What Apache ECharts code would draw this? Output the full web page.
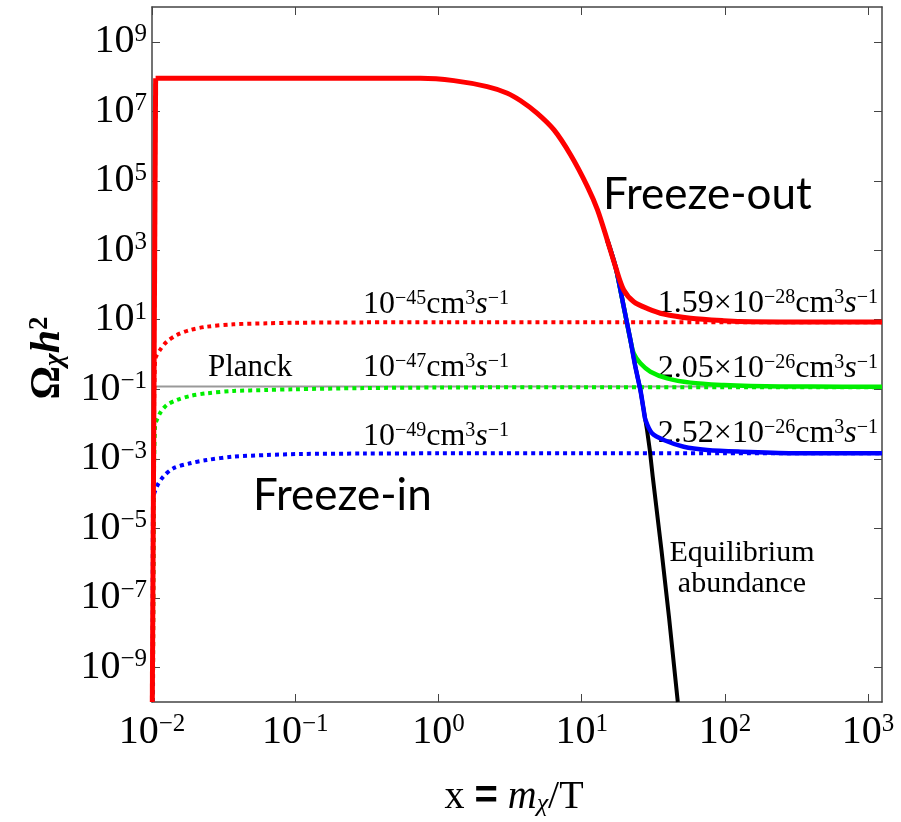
<!DOCTYPE html>
<html>
<head>
<meta charset="utf-8">
<script src="https://cdn.jsdelivr.net/npm/echarts@6/dist/echarts.min.js"></script>
<style>
  html, body { margin: 0; padding: 0; background: #fff; }
  #main { width: 901px; height: 822px; }
</style>
</head>
<body>
<div id="main"></div>
<script>
var myChart = echarts.init(document.getElementById('main'));

// tick positions
var xTicks = [0.01, 0.1, 1, 10, 100, 1000];
var yTicks = [1e-9, 1e-7, 1e-5, 1e-3, 1e-1, 10, 1e3, 1e5, 1e7, 1e9];

// equilibrium abundance (black)
var eqX = [0.01, 0.1, 0.75, 1.28, 2.19, 3.03, 3.75, 4.9, 6.41, 8.38, 10.97, 12.9, 15.1, 17.3, 19.66, 21.9, 23.7, 25.7, 27.1, 28.6, 29.9, 31.35, 36.06, 40.69, 46.9];
var eqY = [8.9e7, 8.9e7, 8.9e7, 7.6e7, 5.1e7, 3.3e7, 2.0e7, 8.7e6, 2.9e6, 5.5e5, 6.8e4, 1.45e4, 1.95e3, 316, 23.7, 2.61, 0.446, 0.0951, 0.0253, 6.7e-3, 1.79e-3, 3.04e-4, 2.37e-6, 2.85e-8, 1e-10];

// freeze-out solutions: vertical start, then leave equilibrium
var redHeadX = [0.01005, 0.0106];
var redHeadY = [1e-10, 8.9e7];
var redSplit = 17.3, greenSplit = 21.9, blueSplit = 27.1;
var redTailX = [19.66, 23.1, 28.6, 37.4, 57.5, 98.2, 151, 400, 1250];
var redTailY = [71.8, 33.0, 21.3, 14.6, 11.0, 9.4, 8.8, 8.65, 8.6];
var greenTailX = [23.1, 25.7, 30.2, 39.5, 57.5, 98.2, 151, 400, 1250];
var greenTailY = [1.08, 0.558, 0.32, 0.206, 0.155, 0.132, 0.124, 0.119, 0.118];
var blueTailX = [27.9, 31.0, 37.4, 51.6, 75.2, 129, 300, 1250];
var blueTailY = [0.013, 5.4e-3, 3.47e-3, 2.22e-3, 1.79e-3, 1.6e-3, 1.45e-3, 1.43e-3];

// freeze-in solutions (dotted)
var rdX = [0.01016, 0.01032, 0.0105, 0.01137, 0.01267, 0.0149, 0.01845, 0.0241, 0.037, 0.0633, 0.097, 0.3, 1, 10, 100, 1250];
var rdY = [1e-10, 1.8e-3, 0.695, 1.35, 2.33, 3.64, 5.07, 6.31, 7.4, 7.9, 8.2, 8.4, 8.45, 8.45, 8.45, 8.45];
var gdX = [0.01016, 0.01024, 0.0105, 0.01137, 0.01267, 0.0149, 0.01845, 0.0241, 0.037, 0.0633, 0.097, 0.3, 1, 10, 100, 1250];
var gdY = [1e-10, 1.2e-6, 8.36e-3, 0.0203, 0.0352, 0.0491, 0.064, 0.0764, 0.0891, 0.0951, 0.0997, 0.108, 0.112, 0.115, 0.115, 0.115];
var bdX = [0.0101, 0.01016, 0.0108, 0.012, 0.0141, 0.01845, 0.0241, 0.037, 0.0633, 0.108, 0.3, 1, 10, 100, 1250];
var bdY = [1e-10, 6.5e-5, 1.57e-4, 3.05e-4, 5.31e-4, 7.4e-4, 9.2e-4, 1.15e-3, 1.28e-3, 1.37e-3, 1.41e-3, 1.43e-3, 1.43e-3, 1.43e-3, 1.43e-3];

// Planck line
var planckX = [0.01, 1250];
var planckY = [0.12, 0.12];

function pairs(xs, ys) {
    return xs.map(function (x, i) { return [x, ys[i]]; });
}
function eqRange(from, to) {
    return pairs(eqX, eqY).filter(function (p) { return p[0] >= from && p[0] <= to; });
}
// the curves under the red one only start near where red leaves equilibrium
var hiddenFrom = 15.1;
var redHead = pairs(redHeadX, redHeadY);
var redData = [redHead[1]].concat(eqRange(0.0107, redSplit), pairs(redTailX, redTailY));
var greenData = eqRange(hiddenFrom, greenSplit).concat(pairs(greenTailX, greenTailY));
var blueData = eqRange(hiddenFrom, blueSplit).concat(pairs(blueTailX, blueTailY));
var blackData = eqRange(hiddenFrom, 1e9);

var serif = 'Liberation Serif';
function powLabel(v) {
    var e = Math.round(Math.log10(v));
    return '{b|10}{s|' + (e < 0 ? '\u2212' + (-e) : e) + '}';
}
var tickRich = {
    b: { fontFamily: serif, fontSize: 40, color: '#000' },
    s: { fontFamily: serif, fontSize: 25, color: '#000', verticalAlign: 'top' }
};
var frameLine = { show: true, lineStyle: { color: '#444', width: 1.5 } };

function line(data, color, width, dash, smooth) {
    return {
        type: 'line', data: data, showSymbol: false, symbol: 'none',
        smooth: smooth,
        lineStyle: { color: color, width: width, type: dash || 'solid', cap: 'butt', join: 'round' },
        silent: true
    };
}

var annRich = {
    n: { fontFamily: serif, fontSize: 32, color: '#000' },
    s: { fontFamily: serif, fontSize: 20, color: '#000', verticalAlign: 'top' },
    i: { fontFamily: serif, fontSize: 32, fontStyle: 'italic', color: '#000' }
};
function rate(pre, exp) {
    return '{n|' + pre + '10}{s|\u2212' + exp + '}{n|cm}{s|3}{i|s}{s|\u22121}';
}

var option = {
    backgroundColor: '#fff',
    animation: false,
    grid: { left: 152, right: 19, top: 7, bottom: 120, containLabel: false },
    xAxis: [{
        type: 'log', logBase: 10, min: 0.01, max: 1250, position: 'bottom',
        axisLine: frameLine,
        axisTick: { show: true, inside: true, length: 8, customValues: xTicks, lineStyle: { color: '#444' } },
        axisLabel: { customValues: xTicks, formatter: powLabel, rich: tickRich, margin: 10 },
        splitLine: { show: false }, minorTick: { show: false }
    }, {
        type: 'log', logBase: 10, min: 0.01, max: 1250, position: 'top',
        axisLine: frameLine,
        axisTick: { show: true, inside: true, length: 8, customValues: xTicks, lineStyle: { color: '#444' } },
        axisLabel: { show: false },
        splitLine: { show: false }
    }],
    yAxis: [{
        type: 'log', logBase: 10, min: 1e-10, max: 1e10, position: 'left',
        axisLine: frameLine,
        axisTick: { show: true, inside: true, length: 8, customValues: yTicks, lineStyle: { color: '#444' } },
        axisLabel: { customValues: yTicks, formatter: powLabel, rich: tickRich, margin: 5 },
        splitLine: { show: false }
    }, {
        type: 'log', logBase: 10, min: 1e-10, max: 1e10, position: 'right',
        axisLine: frameLine,
        axisTick: { show: true, inside: true, length: 8, customValues: yTicks, lineStyle: { color: '#444' } },
        axisLabel: { show: false },
        splitLine: { show: false }
    }],
    series: [
        line(pairs(planckX, planckY), '#999999', 2, 'solid', false),
        line(pairs(rdX, rdY), '#ff0000', 4, [4, 4], 0.3),
        line(pairs(gdX, gdY), '#00ee00', 4, [4, 4], 0.3),
        line(pairs(bdX, bdY), '#0000ff', 4, [4, 4], 0.3),
        line(blackData, '#000000', 4, 'solid', false),
        line(greenData, '#00ee00', 4.5, 'solid', 0.3),
        line(blueData, '#0000ff', 4.5, 'solid', 0.3),
        line(redHead, '#ff0000', 5, 'solid', false),
        line(redData, '#ff0000', 5, 'solid', 0.3)
    ],
    graphic: [
        { type: 'text', x: 603, y: 195, style: { text: 'Freeze-out', font: '44px Lato', fill: '#000', align: 'left', verticalAlign: 'middle' } },
        { type: 'text', x: 253, y: 496, style: { text: 'Freeze-in', font: '44px Lato', fill: '#000', align: 'left', verticalAlign: 'middle' } },
        { type: 'text', x: 208, y: 368, style: { text: 'Planck', font: '31px "Liberation Serif"', fill: '#000', align: 'left', verticalAlign: 'middle' } },
        { type: 'text', x: 363, y: 305, style: { text: rate('', 45), rich: annRich, align: 'left', verticalAlign: 'middle' } },
        { type: 'text', x: 363, y: 368, style: { text: rate('', 47), rich: annRich, align: 'left', verticalAlign: 'middle' } },
        { type: 'text', x: 363, y: 437, style: { text: rate('', 49), rich: annRich, align: 'left', verticalAlign: 'middle' } },
        { type: 'text', x: 878, y: 304, style: { text: rate('1.59\u00d7', 28), rich: annRich, align: 'right', verticalAlign: 'middle' } },
        { type: 'text', x: 878, y: 369, style: { text: rate('2.05\u00d7', 26), rich: annRich, align: 'right', verticalAlign: 'middle' } },
        { type: 'text', x: 878, y: 434, style: { text: rate('2.52\u00d7', 26), rich: annRich, align: 'right', verticalAlign: 'middle' } },
        { type: 'text', x: 742, y: 569, style: { text: 'Equilibrium\nabundance', font: '30px "Liberation Serif"', lineHeight: 31, fill: '#000', align: 'center', verticalAlign: 'middle' } },
        { type: 'text', x: 48, y: 358, rotation: Math.PI / 2, style: {
            text: '{o|\u03a9}{c|\u03c7}{h|h}{t|2}', align: 'center', verticalAlign: 'middle',
            rich: {
                o: { fontFamily: serif, fontSize: 42, fontWeight: 'bold', color: '#000' },
                c: { fontFamily: serif, fontSize: 27, fontStyle: 'italic', fontWeight: 'bold', color: '#000', verticalAlign: 'bottom' },
                h: { fontFamily: serif, fontSize: 42, fontStyle: 'italic', fontWeight: 'bold', color: '#000' },
                t: { fontFamily: serif, fontSize: 27, fontWeight: 'bold', color: '#000', verticalAlign: 'top' }
            } } },
        { type: 'text', x: 514, y: 797, style: {
            text: '{n|x }{e|=}{n| }{i|m}{c|\u03c7}{n|/T}', align: 'center', verticalAlign: 'middle',
            rich: {
                n: { fontFamily: serif, fontSize: 40, color: '#000' },
                e: { fontFamily: 'Liberation Sans', fontSize: 40, fontWeight: 'bold', color: '#000' },
                i: { fontFamily: serif, fontSize: 40, fontStyle: 'italic', color: '#000' },
                c: { fontFamily: serif, fontSize: 26, fontStyle: 'italic', color: '#000', verticalAlign: 'bottom' }
            } } }
    ]
};
myChart.setOption(option);
</script>
</body>
</html>
